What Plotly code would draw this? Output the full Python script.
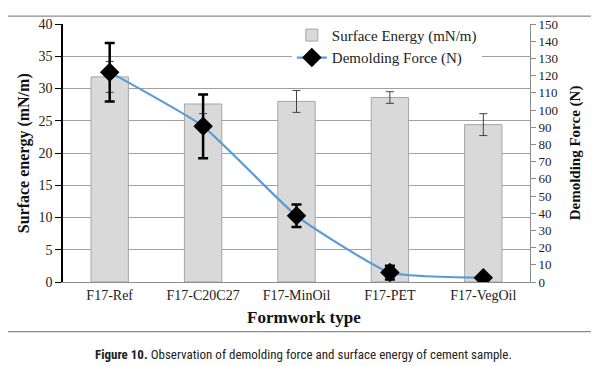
import plotly.graph_objects as go

categories = ["F17-Ref", "F17-C20C27", "F17-MinOil", "F17-PET", "F17-VegOil"]
surface_energy = [31.8, 27.6, 28.0, 28.6, 24.4]
surface_err = [2.4, 1.5, 1.7, 0.9, 1.7]
demolding_force = [122, 90.5, 38.5, 5.5, 2.5]
demolding_err = [17, 18.5, 6.5, 4, 1]

left_ticks = list(range(0, 41, 5))
right_ticks = list(range(0, 151, 10))

serif = "Liberation Serif, Times New Roman, serif"

fig = go.Figure()
fig.add_trace(go.Bar(
    x=categories, y=surface_energy, name="Surface Energy (mN/m)",
    marker=dict(color="#D9D9D9", line=dict(color="#A6A6A6", width=1)),
    width=0.4,
    error_y=dict(type="data", array=surface_err, color="#404040", thickness=1, width=4),
    yaxis="y",
))
fig.add_trace(go.Scatter(
    x=categories, y=demolding_force, name="Demolding Force (N)",
    mode="lines+markers",
    line=dict(color="#5B9BD5", width=2.2, shape="spline", smoothing=0.45),
    marker=dict(symbol="diamond", size=15, color="black"),
    error_y=dict(type="data", array=demolding_err, color="black", thickness=2.5, width=5),
    yaxis="y2",
))

fig.update_layout(
    width=591, height=358,
    margin=dict(l=55, r=69, t=9, b=84),
    paper_bgcolor="white", plot_bgcolor="white",
    font=dict(family=serif, color="#222"),
    showlegend=True,
    legend=dict(x=0.49, y=1.02, xanchor="left", yanchor="top",
                bgcolor="white", font=dict(family=serif, size=15, color="#222"),
                tracegroupgap=0, itemwidth=30),
    xaxis=dict(showline=True, linecolor="#8C8C8C", linewidth=1, ticks="",
               tickfont=dict(family=serif, size=14, color="#222"),
               showgrid=False),
    yaxis=dict(range=[0, 40], tickvals=left_ticks, showline=True, linecolor="black",
               linewidth=1.5, ticks="outside", ticklen=6, tickcolor="black",
               gridcolor="#A0A0A0", gridwidth=1,
               tickfont=dict(family=serif, size=14, color="#222")),
    yaxis2=dict(range=[0, 150], tickvals=right_ticks, overlaying="y", side="right",
                showline=True, linecolor="#8C8C8C", linewidth=1, ticks="outside",
                ticklen=5, tickcolor="#8C8C8C", showgrid=False,
                tickfont=dict(family=serif, size=13, color="#222")),
    bargap=0.6,
)

annotations = [
    dict(text="<b>Surface energy (mN/m)</b>", x=-0.083, y=0.5, xref="paper", yref="paper",
         textangle=-90, showarrow=False, font=dict(family=serif, size=16, color="#111"),
         xanchor="center", yanchor="middle"),
    dict(text="<b>Demolding Force (N)</b>", x=1.097, y=0.5, xref="paper", yref="paper",
         textangle=-90, showarrow=False, font=dict(family=serif, size=15, color="#111"),
         xanchor="center", yanchor="middle"),
    dict(text="<b>Formwork type</b>", x=0.517, y=-0.137, xref="paper", yref="paper",
         showarrow=False, font=dict(family=serif, size=17, color="#111"),
         xanchor="center", yanchor="middle"),
    dict(text="<b>Figure 10.</b> Observation of demolding force and surface energy of cement sample.",
         x=0.516, y=-0.282, xref="paper", yref="paper", showarrow=False,
         font=dict(family="Liberation Sans Narrow, Roboto Condensed, Arial Narrow, Roboto, sans-serif",
                   size=13, color="#222"),
         xanchor="center", yanchor="middle"),
]
fig.update_layout(annotations=annotations)

fig.add_shape(type="rect", xref="paper", yref="paper",
              x0=-0.1285, x1=1.1394, y0=-0.1925, y1=1.0302,
              line=dict(color="#8C8C8C", width=1.2), layer="below")

fig.write_html("out.html")
